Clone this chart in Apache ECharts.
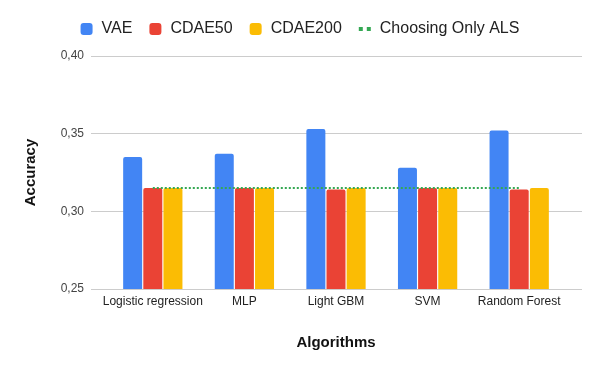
<!DOCTYPE html>
<html>
<head>
<meta charset="utf-8">
<script src="https://cdn.jsdelivr.net/npm/echarts@6/dist/echarts.min.js"></script>
<style>
  html, body { margin: 0; padding: 0; background: #fff; }
  #chart { width: 600px; height: 371px; }
</style>
</head>
<body>
<div id="chart"></div>
<script>
  // data
  var categories = ['Logistic regression', 'MLP', 'Light GBM', 'SVM', 'Random Forest'];
  var vae = [0.335, 0.337, 0.353, 0.328, 0.352];
  var cdae50 = [0.315, 0.315, 0.314, 0.315, 0.314];
  var cdae200 = [0.315, 0.315, 0.315, 0.315, 0.315];
  var onlyAls = [0.315, 0.315, 0.315, 0.315, 0.315];
  var yMin = 0.25, yMax = 0.40, yStep = 0.05;

  var font = 'Liberation Sans, Arial, sans-serif';
  var chart = echarts.init(document.getElementById('chart'));

  function comma(v) { return v.toFixed(2).replace('.', ','); }

  var barStyle = function (c) {
    return { color: c, borderRadius: [2, 2, 0, 0] };
  };

  chart.setOption({
    animation: false,
    textStyle: { fontFamily: font },
    legend: {
      top: 16,
      left: 'center',
      itemWidth: 12,
      itemHeight: 12,
      itemGap: 17,
      textStyle: { fontSize: 16, color: '#222', fontFamily: font, padding: [0, 0, 0, 4] },
      data: [
        { name: 'VAE', icon: 'roundRect' },
        { name: 'CDAE50', icon: 'roundRect' },
        { name: 'CDAE200', icon: 'roundRect' },
        { name: 'Choosing Only ALS', icon: 'path://M0,4h4v4h-4zM8,4h4v4h-4z' }
      ]
    },
    grid: [
      // background grid: wider gridlines and the y labels
      { left: 91, right: 18, top: 56, bottom: 82 },
      // plotting grid for the bars
      { left: 107, right: 35, top: 56, bottom: 82 }
    ],
    xAxis: [
      { gridIndex: 0, type: 'category', data: [''], show: false },
      {
        gridIndex: 1, type: 'category', data: categories,
        axisLine: { show: false }, axisTick: { show: false },
        axisLabel: { fontSize: 12, color: '#222', margin: 7, interval: 0 },
        name: 'Algorithms', nameLocation: 'middle', nameGap: 46,
        nameTextStyle: { fontSize: 15, fontWeight: 'bold', color: '#111' }
      }
    ],
    yAxis: [
      {
        gridIndex: 0, type: 'value', min: yMin, max: yMax, interval: yStep,
        axisLine: { show: false }, axisTick: { show: false },
        axisLabel: { fontSize: 12, color: '#444', margin: 7, formatter: comma },
        splitLine: { lineStyle: { color: '#ccc', width: 1 } },
        name: 'Accuracy', nameLocation: 'middle', nameGap: 53, nameRotate: 90,
        nameTextStyle: { fontSize: 15, fontWeight: 'bold', color: '#111' }
      },
      {
        gridIndex: 1, type: 'value', min: yMin, max: yMax, interval: yStep,
        show: false, splitLine: { show: false }
      }
    ],
    series: [
      { name: 'VAE', type: 'bar', xAxisIndex: 1, yAxisIndex: 1, data: vae,
        barWidth: 19, barGap: '6%', itemStyle: barStyle('#4285F4') },
      { name: 'CDAE50', type: 'bar', xAxisIndex: 1, yAxisIndex: 1, data: cdae50,
        barWidth: 19, barGap: '6%', itemStyle: barStyle('#EA4335') },
      { name: 'CDAE200', type: 'bar', xAxisIndex: 1, yAxisIndex: 1, data: cdae200,
        barWidth: 19, barGap: '6%', itemStyle: barStyle('#FBBC04') },
      { name: 'Choosing Only ALS', type: 'line', xAxisIndex: 1, yAxisIndex: 1, data: onlyAls,
        symbol: 'none', z: 5,
        itemStyle: { color: '#34A853' },
        lineStyle: { color: '#34A853', width: 2, type: [2, 2] } }
    ]
  });
</script>
</body>
</html>
